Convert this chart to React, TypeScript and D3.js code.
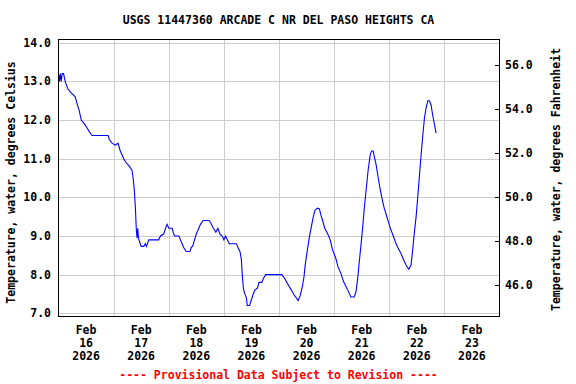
import React, { useEffect, useRef } from 'react';
import * as d3 from 'd3';

// Hours since Feb 16 2026 00:00 and water temperature (deg C)
const hours = [
  0, 0.4, 0.8, 1.2, 1.6, 2.2, 2.9, 4.1, 5.5, 7.3, 8.2, 9.0, 9.9, 11.3, 12.4, 13.4, 14.6, 21.6,
  22.1, 23.3, 24.7, 25.9, 26.9, 28.4, 29.4, 30.9, 32.0, 32.5, 33.0, 33.5, 33.9, 34.2, 34.5, 34.8,
  35.3, 36.0, 37.1, 37.8, 38.3, 39.3, 43.6, 44.4, 45.8, 46.6, 47.3, 48.0, 49.5, 49.9, 50.5, 52.4,
  53.1, 53.8, 54.5, 55.6, 57.2, 57.8, 58.5, 59.2, 60.0, 61.1, 61.8, 63.0, 65.5, 66.2, 67.4, 68.5,
  69.4, 70.3, 71.3, 72.0, 72.7, 73.5, 74.4, 77.5, 78.1, 79.0, 79.6, 80.0, 80.5, 81.0, 81.8, 82.2,
  83.2, 84.0, 84.8, 85.5, 86.6, 87.3, 88.5, 89.2, 90.2, 97.2, 98.5, 99.4, 100.4, 101.4, 102.5,
  103.3, 104.3, 105.2, 106.2, 106.9, 107.3, 108.0, 108.7, 109.4, 110.1, 110.8, 111.7, 112.8,
  113.6, 114.2, 114.9, 115.9, 117.1, 118.3, 119.3, 120.7, 121.7, 122.9, 124.1, 125.1, 126.1,
  127.3, 128.7, 129.5, 130.2, 130.9, 131.7, 132.4, 133.1, 134.0, 134.8, 135.7, 136.3, 137.0,
  137.5, 138.3, 139.2, 140.1, 141.0, 141.8, 142.7, 143.6, 144.7, 145.9, 146.9, 147.9, 149.1,
  150.3, 151.3, 152.5, 153.5, 154.2, 154.9, 155.7, 156.4, 157.1, 157.8, 158.6, 159.3, 160.0,
  160.8, 161.5, 162.2, 162.9, 163.6, 164.4,
];
const tempC = [
  13.2, 13.0, 13.2, 13.0, 13.2, 13.2, 13.0, 12.8, 12.7, 12.6, 12.4, 12.25, 12.0, 11.9, 11.8, 11.7, 11.6, 11.6,
  11.5, 11.4, 11.35, 11.4, 11.2, 11.0, 10.9, 10.8, 10.7, 10.5, 10.2, 9.7, 9.15, 8.95, 9.2, 8.95,
  8.85, 8.73, 8.73, 8.8, 8.73, 8.9, 8.9, 9.0, 9.05, 9.2, 9.3, 9.2, 9.2, 9.1, 9.0, 9.0,
  8.9, 8.8, 8.7, 8.6, 8.6, 8.7, 8.75, 8.9, 9.05, 9.2, 9.3, 9.4, 9.4, 9.35, 9.2, 9.1,
  9.2, 9.05, 9.0, 8.9, 9.0, 8.9, 8.8, 8.8, 8.7, 8.6, 8.4, 8.0, 7.65, 7.52, 7.4, 7.2,
  7.2, 7.35, 7.5, 7.6, 7.65, 7.8, 7.8, 7.9, 8.0, 8.0, 7.9, 7.8, 7.7, 7.6, 7.48,
  7.42, 7.33, 7.45, 7.7, 7.95, 8.2, 8.5, 8.77, 9.03, 9.24, 9.46, 9.67, 9.72,
  9.7, 9.55, 9.42, 9.2, 9.07, 8.9, 8.64, 8.43, 8.2, 8.04, 7.82, 7.7, 7.58,
  7.42, 7.42, 7.55, 7.87, 8.3, 8.77, 9.2, 9.7, 10.23, 10.7, 11.1, 11.2, 11.2,
  11.05, 10.84, 10.5, 10.19, 9.93, 9.72, 9.55, 9.37, 9.16, 8.98, 8.81, 8.68, 8.55,
  8.38, 8.25, 8.14, 8.25, 8.64, 9.07, 9.5, 10.0, 10.53, 11.05, 11.6, 12.04, 12.3,
  12.5, 12.5, 12.39, 12.13, 11.91, 11.66,
];

const celsiusTicks = [7, 8, 9, 10, 11, 12, 13, 14];
const fahrenheitTicks = [46, 48, 50, 52, 54, 56];

const TITLE = 'USGS 11447360 ARCADE C NR DEL PASO HEIGHTS CA';
const LEFT_LABEL = 'Temperature, water, degrees Celsius';
const RIGHT_LABEL = 'Temperature, water, degrees Fahrenheit';
const FOOTER = '---- Provisional Data Subject to Revision ----';

const FONT = '"DejaVu Sans Mono", "Liberation Mono", monospace';

export default function App() {
  const svgRef = useRef<SVGSVGElement>(null);

  useEffect(() => {
    if (!svgRef.current) return;
    d3.select(svgRef.current).selectAll('*').remove();

    const width = 576;
    const height = 384;
    const plot = { left: 58, right: 499, top: 39, bottom: 316 };

    const svg = d3.select(svgRef.current).attr('width', width).attr('height', height);

    const start = new Date(2026, 1, 16);
    const end = d3.timeDay.offset(start, 8);

    const x = d3.scaleTime().domain([start, end]).range([plot.left + 0.5, plot.right + 0.5]);
    const yC = d3.scaleLinear().domain([7, 14]).range([313.3, 42.7]);
    const yF = d3.scaleLinear().domain([46, 56]).range([285.3, 65.3]);

    const fmt = d3.format('.1f');

    const text = (sel: any) =>
      sel
        .attr('font-family', FONT)
        .attr('font-size', 11.5)
        .attr('font-weight', 'bold')
        .attr('fill', '#000');

    svg.append('rect').attr('width', width).attr('height', height).attr('fill', '#fff');

    // horizontal grid (Celsius)
    svg
      .append('g')
      .selectAll('line')
      .data(celsiusTicks)
      .enter()
      .append('line')
      .attr('x1', plot.left)
      .attr('x2', plot.right)
      .attr('y1', (d) => Math.round(yC(d)) + 0.5)
      .attr('y2', (d) => Math.round(yC(d)) + 0.5)
      .attr('stroke', '#cccccc')
      .attr('shape-rendering', 'crispEdges');

    // vertical grid at midnight
    const midnights = d3.timeDay.range(d3.timeDay.offset(start, 1), end);
    svg
      .append('g')
      .selectAll('line')
      .data(midnights)
      .enter()
      .append('line')
      .attr('x1', (d) => Math.round(x(d)) + 0.5)
      .attr('x2', (d) => Math.round(x(d)) + 0.5)
      .attr('y1', plot.top)
      .attr('y2', plot.bottom)
      .attr('stroke', '#cccccc')
      .attr('shape-rendering', 'crispEdges');

    // data line
    const points = hours.map((h, i) => ({ t: new Date(start.getTime() + h * 3600e3), v: tempC[i] }));
    const line = d3
      .line<{ t: Date; v: number }>()
      .x((d) => x(d.t))
      .y((d) => yC(d.v));
    svg
      .append('path')
      .datum(points)
      .attr('d', line)
      .attr('fill', 'none')
      .attr('stroke', '#0000ff')
      .attr('stroke-width', 1.1);

    // plot border
    svg
      .append('rect')
      .attr('x', plot.left + 0.5)
      .attr('y', plot.top + 0.5)
      .attr('width', plot.right - plot.left)
      .attr('height', plot.bottom - plot.top)
      .attr('fill', 'none')
      .attr('stroke', '#000')
      .attr('stroke-width', 1.5)
      .attr('shape-rendering', 'crispEdges');

    // left axis labels
    svg
      .append('g')
      .selectAll('text')
      .data(celsiusTicks)
      .enter()
      .append('text')
      .call(text)
      .attr('x', 51)
      .attr('y', (d) => yC(d) + 4)
      .attr('text-anchor', 'end')
      .text((d) => fmt(d));

    // right axis ticks + labels
    const right = svg.append('g');
    right
      .selectAll('line')
      .data(fahrenheitTicks)
      .enter()
      .append('line')
      .attr('x1', plot.right - 4)
      .attr('x2', plot.right)
      .attr('y1', (d) => Math.round(yF(d)) + 0.5)
      .attr('y2', (d) => Math.round(yF(d)) + 0.5)
      .attr('stroke', '#000')
      .attr('shape-rendering', 'crispEdges');
    right
      .selectAll('text')
      .data(fahrenheitTicks)
      .enter()
      .append('text')
      .call(text)
      .attr('x', 505)
      .attr('y', (d) => yF(d) + 4)
      .text((d) => fmt(d));

    // date labels at noon
    const days = d3.timeDay.range(start, d3.timeDay.offset(start, 8));
    const dayG = svg
      .append('g')
      .selectAll('text')
      .data(days)
      .enter()
      .append('text')
      .call(text)
      .attr('text-anchor', 'middle');
    const noonX = (d: Date) => x(d3.timeHour.offset(d, 12));
    dayG.append('tspan').attr('x', noonX).attr('y', 334).text(d3.timeFormat('%b'));
    dayG.append('tspan').attr('x', noonX).attr('y', 347).text(d3.timeFormat('%-d'));
    dayG.append('tspan').attr('x', noonX).attr('y', 360).text(d3.timeFormat('%Y'));

    const cx = (plot.left + plot.right) / 2;

    svg.append('text').call(text).attr('x', cx).attr('y', 24).attr('text-anchor', 'middle').text(TITLE);

    svg
      .append('text')
      .call(text)
      .attr('text-anchor', 'middle')
      .attr('transform', `translate(15,${(plot.top + plot.bottom) / 2 + 5}) rotate(-90)`)
      .text(LEFT_LABEL);

    svg
      .append('text')
      .call(text)
      .attr('text-anchor', 'middle')
      .attr('transform', `translate(560,${(plot.top + plot.bottom) / 2 + 2}) rotate(-90)`)
      .text(RIGHT_LABEL);

    svg
      .append('text')
      .call(text)
      .attr('x', cx)
      .attr('y', 379)
      .attr('text-anchor', 'middle')
      .attr('fill', '#ff0000')
      .text(FOOTER);
  }, []);

  return <svg ref={svgRef} style={{ position: 'absolute', left: 0, top: 0, display: 'block' }} />;
}
